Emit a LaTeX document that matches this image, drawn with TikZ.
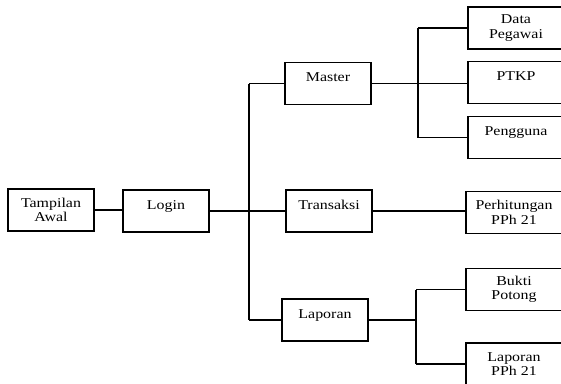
\documentclass[tikz,border=0pt]{standalone}
\usepackage{fontspec}
\setmainfont[FakeStretch=1.18]{Liberation Serif}
\usepackage{tikz}
\usetikzlibrary{calc,positioning}
\tikzset{
  kotak/.style={draw, line width=1.1pt, minimum width=86pt, minimum height=42pt,
    inner xsep=2pt, inner ysep=6.5pt, align=center,
    font=\fontsize{13.5}{14.5}\selectfont},
  satu/.style={kotak, text height=12.5pt, text depth=16pt},
  kanan/.style={minimum width=96pt},
  garis/.style={line width=1.1pt}
}

\begin{document}
\begin{tikzpicture}[x=1pt,y=-1pt]
        \clip (0,0) rectangle (561,383);
        % level 0 and 1
        \node[kotak] (awal) at (51,210) {Tampilan\\Awal};
        \node[satu] (login) at (166,211) {Login};

        % menu
        \node[satu] (master) at (328,83.5) {Master};
        \node[satu] (transaksi) at (329,211) {Transaksi};
        \node[satu] (laporan) at (325,320) {Laporan};

        % sub menu
        \node[kotak,kanan] (pegawai) at (516,28) {Data\\Pegawai};
        \node[satu,kanan] (ptkp) at (516,82.5) {PTKP};
        \node[satu,kanan] (pengguna) at (516,137.5) {Pengguna};
        \node[kotak,kanan] (hitung) at (514,212.5) {Perhitungan\\PPh 21};
        \node[kotak,kanan] (bukti) at (514,289.5) {Bukti\\Potong};
        \node[kotak,kanan] (lappph) at (514,364) {Laporan\\PPh 21};

        \coordinate (busA) at (249,0);
        \coordinate (busB) at (418,0);
        \coordinate (busC) at (416,0);

        \draw[garis] (awal.east) -- (awal.east -| login.west);
        \draw[garis] (login.east) -- (login.east -| busA);
        \draw[garis] (busA |- master) -- (busA |- laporan);
        \foreach \m in {master,transaksi,laporan}
        {
        \draw[garis] (busA |- \m) -- (\m.west);
        }

        \draw[garis] (master.east) -- (master.east -| ptkp.west);
        \draw[garis] (busB |- pegawai) -- (busB |- pengguna);
        \draw[garis] (busB |- pegawai) -- (pegawai.west);
        \draw[garis] (busB |- pengguna) -- (pengguna.west);

        \draw[garis] (transaksi.east) -- (transaksi.east -| hitung.west);

        \draw[garis] (laporan.east) -- (laporan.east -| busC);
        \draw[garis] (busC |- bukti) -- (busC |- lappph);
        \draw[garis] (busC |- bukti) -- (bukti.west);
        \draw[garis] (busC |- lappph) -- (lappph.west);
\end{tikzpicture}
\end{document}
